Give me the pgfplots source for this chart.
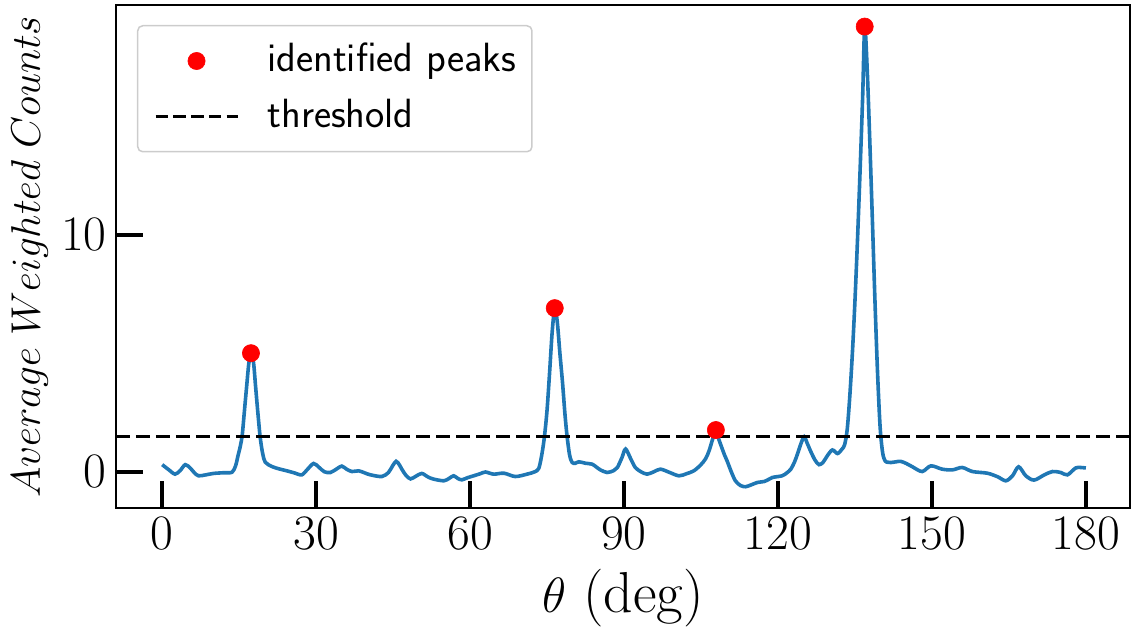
\documentclass[border=0pt]{standalone}
\usepackage{pgfplots}
\pgfplotsset{compat=1.18}
\definecolor{mplblue}{HTML}{1F77B4}
\begin{document}
\begin{tikzpicture}
\begin{axis}[
  scale only axis, width=507bp, height=251.65bp,
  xmin=-9, xmax=188.6, ymin=-1.54, ymax=19.68,
  xtick={0,30,...,180}, ytick={0,10},
  tick align=inside, tick pos=left,
  major tick length=13.5bp,
  tick style={black, line width=2bp},
  axis line style={line width=0.9bp},
  tick label style={font=\fontsize{26.5}{30}\selectfont, inner sep=0pt},
  xticklabel style={yshift=-4.5bp},
  yticklabel style={xshift=-4.5bp},
  clip=false,
  legend cell align=left,
  legend style={at={(rel axis cs:0,1)}, anchor=north west, xshift=10.5bp, yshift=-10bp,
    draw=black!20, line width=0.75bp, rounded corners=2.5bp, inner xsep=8bp, inner ysep=5bp,
    row sep=2.5bp, column sep=14bp, font=\sffamily\fontsize{20.5}{24}\selectfont,
    nodes={inner sep=0pt, text height=18bp, text depth=7.25bp}},
  legend image code/.code={\draw[mark repeat=2, mark phase=2, #1] plot coordinates {(0bp,0bp) (20.5bp,0bp) (41bp,0bp)};},
]
\coordinate (SW) at (rel axis cs:0,0);
\coordinate (NE) at (rel axis cs:1,1);
\addplot[mplblue, line width=1.8bp, smooth, tension=0.5, forget plot] coordinates {
(0.0,0.30) (1.2,0.10) (2.5,-0.10) (3.5,0.05) (4.5,0.30) (5.5,0.15) (6.3,-0.05) (7.1,-0.17)
(8.5,-0.13) (10.0,-0.07) (12.0,-0.04) (13.6,-0.02) (14.3,0.25) (14.8,0.70) (15.2,1.05)
(15.6,1.55) (16.0,2.50) (16.5,3.70) (16.9,4.60) (17.3,5.00) (17.8,4.60) (18.2,3.60)
(18.6,2.60) (19.1,1.45) (19.6,0.75) (20.1,0.40) (21.4,0.22) (22.8,0.12) (24.3,0.04)
(25.8,-0.05) (27.2,-0.13) (28.3,0.10) (29.5,0.35) (30.5,0.20) (31.6,0.00) (32.8,-0.03)
(34.0,0.12) (35.0,0.24) (36.0,0.10) (37.0,0.01) (38.3,0.04) (39.5,-0.05) (40.6,-0.13)
(42.8,-0.20) (44.1,-0.03) (44.9,0.25) (45.6,0.44) (46.2,0.30) (46.7,0.11) (47.5,-0.15)
(48.4,-0.30) (49.5,-0.18) (50.6,-0.07) (51.8,-0.22) (52.9,-0.31) (54.9,-0.38) (55.9,-0.28)
(56.8,-0.17) (57.6,-0.28) (58.4,-0.34) (59.5,-0.25) (60.7,-0.17) (62.0,-0.08) (63.0,-0.01)
(64.6,-0.10) (66.6,-0.06) (68.8,-0.20) (71.1,-0.10) (72.6,0.00) (73.4,0.15) (74.0,0.75)
(74.5,1.50) (75.0,2.60) (75.5,4.20) (76.0,5.90) (76.5,6.90) (77.0,6.30) (77.5,5.00)
(78.0,3.80) (78.5,2.40) (78.9,1.50) (79.4,0.70) (79.9,0.39) (80.5,0.36) (81.2,0.42)
(82.5,0.36) (83.8,0.32) (84.6,0.20) (85.4,0.08) (86.7,-0.03) (88.0,0.05) (88.7,0.18)
(89.6,0.60) (90.3,0.96) (91.3,0.55) (92.2,0.18) (93.3,0.00) (94.5,-0.10) (95.8,0.00)
(97.1,0.11) (98.9,-0.03) (100.7,-0.17) (102.2,-0.08) (103.6,0.04) (104.9,0.28) (105.9,0.55)
(106.6,0.90) (107.3,1.40) (107.9,1.76) (108.5,1.35) (109.0,1.05) (109.6,0.70) (110.1,0.45)
(110.9,0.00) (111.7,-0.38) (112.7,-0.58) (113.7,-0.63) (114.8,-0.55) (116.0,-0.45)
(117.3,-0.41) (118.2,-0.32) (118.9,-0.24) (120.8,-0.17) (121.7,-0.05) (122.5,0.11)
(123.2,0.40) (123.8,0.75) (124.5,1.20) (125.1,1.48) (125.7,1.20) (126.4,0.85) (127.2,0.50)
(128.0,0.30) (128.8,0.40) (129.6,0.67) (130.6,0.92) (131.6,0.77) (132.5,0.96) (133.0,1.15)
(133.5,1.80) (134.0,3.20) (134.5,5.00) (135.0,7.20) (135.5,9.80) (136.0,12.70) (136.5,15.80)
(136.9,18.77) (137.4,16.90) (137.9,13.90) (138.4,10.60) (138.9,7.20) (139.4,4.20)
(139.9,1.90) (140.4,0.80) (140.9,0.45) (141.5,0.40) (142.0,0.39) (143.0,0.42) (143.9,0.44)
(145.0,0.35) (146.2,0.21) (148.1,0.01) (149.8,0.25) (152.0,0.11) (154.0,0.08) (155.9,0.18)
(157.9,0.01) (160.8,-0.06) (162.8,-0.21) (164.4,-0.38) (165.7,-0.17) (166.9,0.21)
(168.3,-0.17) (169.9,-0.35) (171.9,-0.13) (173.5,0.01) (175.1,-0.03) (176.4,-0.13)
(178.0,0.16) (179.0,0.18) (180.0,0.16)
};
\addplot[black, line width=1.8bp, dash pattern=on 7bp off 3bp, forget plot] coordinates {(-9,1.48) (188.6,1.48)};
\addplot[only marks, mark=*, mark size=4.3bp, red, mark options={fill=red, draw=red, line width=0.3bp}] coordinates {
(17.3,5.00) (76.5,6.90) (107.9,1.76) (136.9,18.77)
};
\addlegendentry{identified peaks}
\addlegendimage{black, line width=1.8bp, dash pattern=on 6.2bp off 2.7bp}
\addlegendentry{threshold}
\node[anchor=base, yshift=-52.3bp, font=\fontsize{29}{34}\selectfont] at (rel axis cs:0.5,0) {$\theta$ (deg)};
\node[xshift=-38bp, rotate=90, anchor=base, font=\fontsize{20.5}{24}\selectfont] at (rel axis cs:0,0.5) {$Average\ Weighted\ Counts$};
\end{axis}
\pgfresetboundingbox
\useasboundingbox ([shift={(-58bp,-62.85bp)}]SW) rectangle ([shift={(3bp,2.5bp)}]NE);
\end{tikzpicture}
\end{document}
